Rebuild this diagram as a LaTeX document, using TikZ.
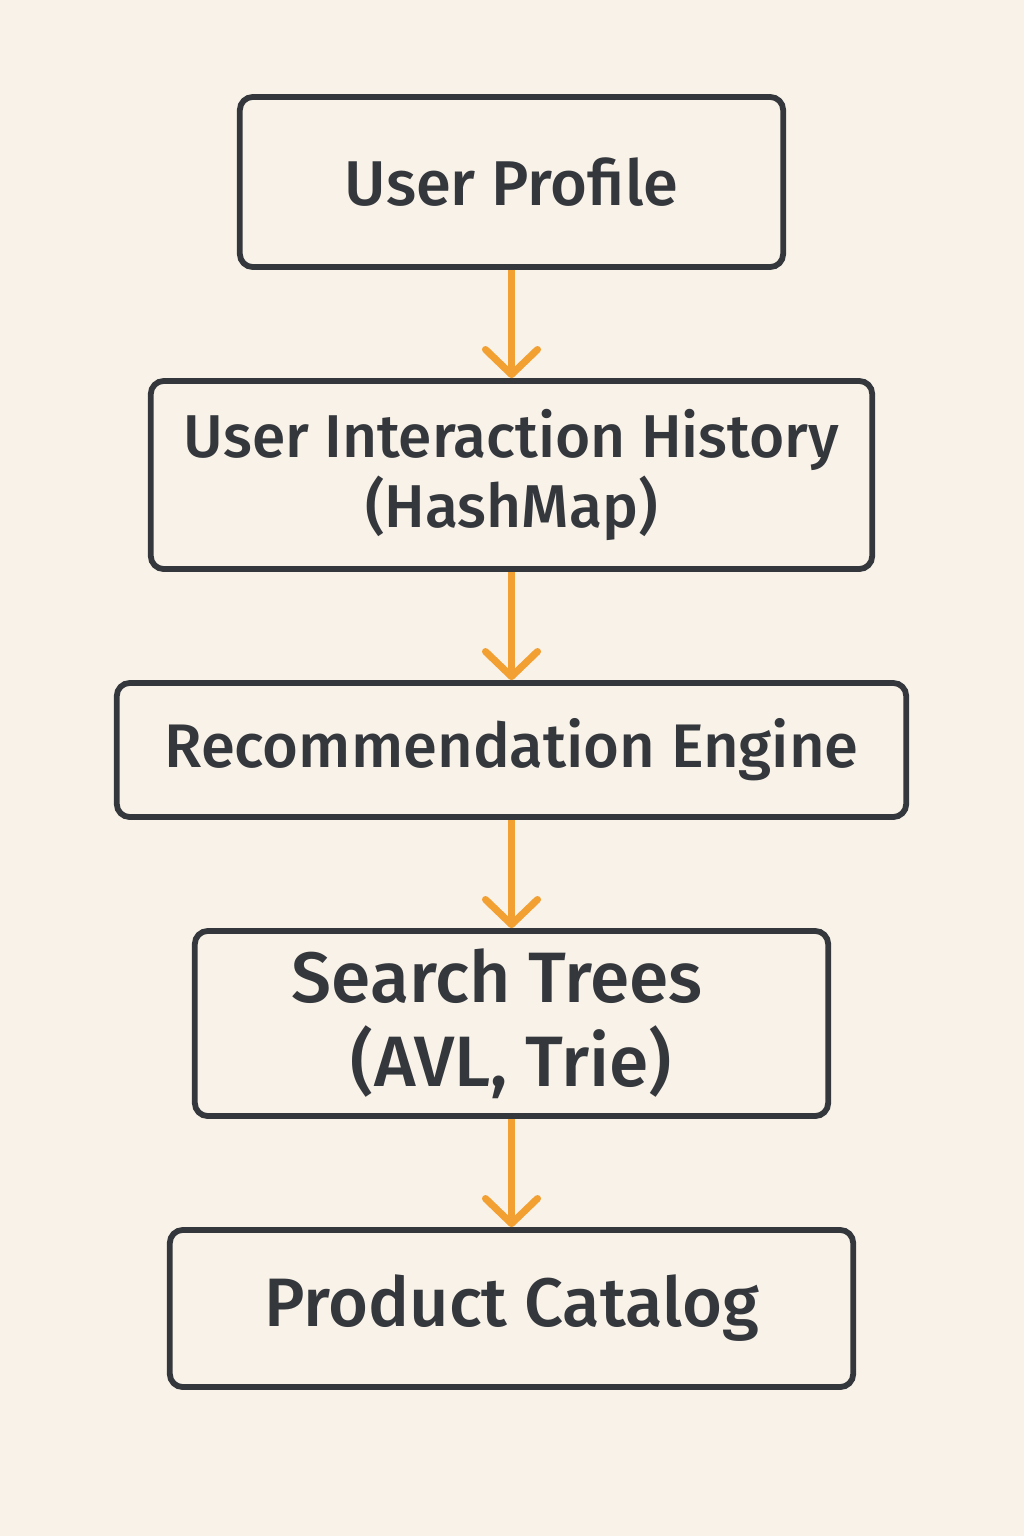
\documentclass[tikz,border=0pt]{standalone}
\usepackage{fontspec}
\setmainfont{Fira Sans}[UprightFont=* Medium]
\usetikzlibrary{arrows.meta}
\definecolor{bgCream}{HTML}{F8F2E8}
\definecolor{boxGray}{HTML}{34373C}
\definecolor{flowOrange}{HTML}{F3A033}

\begin{document}
\begin{tikzpicture}[x=0.01cm, y=-0.01cm,
  block/.style={draw=boxGray, line width=1.65pt, rounded corners=1.3mm, inner sep=0pt, align=center, text=boxGray},
  flow/.style={draw=flowOrange, line width=2pt, -{Straight Barb[length=2.5mm, width=5.2mm, round]}}]
\fill[bgCream] (0,0) rectangle (1024,1536);
\node[block, minimum width=5.43cm, minimum height=1.70cm, font=\fontsize{18}{22}\selectfont] (profile) at (511.5,182) {User Profile};
\node[block, minimum width=7.21cm, minimum height=1.88cm, font=\fontsize{17.2}{20}\selectfont] (history) at (511.5,475) {User Interaction History\\(HashMap)};
\node[block, minimum width=7.89cm, minimum height=1.34cm, font=\fontsize{17.5}{22}\selectfont] (engine) at (511.5,750) {Recommendation Engine};
\node[block, minimum width=6.33cm, minimum height=1.85cm, font=\fontsize{20.3}{24}\selectfont] (trees) at (511.5,1023.5) {Search Trees\hspace*{0.4em}\\(AVL, Trie)};
\node[block, minimum width=6.83cm, minimum height=1.57cm, font=\fontsize{19.5}{24}\selectfont] (catalog) at (511.5,1308.5) {Product Catalog};
\foreach \a/\b in {profile/history, history/engine, engine/trees, trees/catalog}
  \draw[flow] (\a.south) -- (\b.north);
\end{tikzpicture}
\end{document}
